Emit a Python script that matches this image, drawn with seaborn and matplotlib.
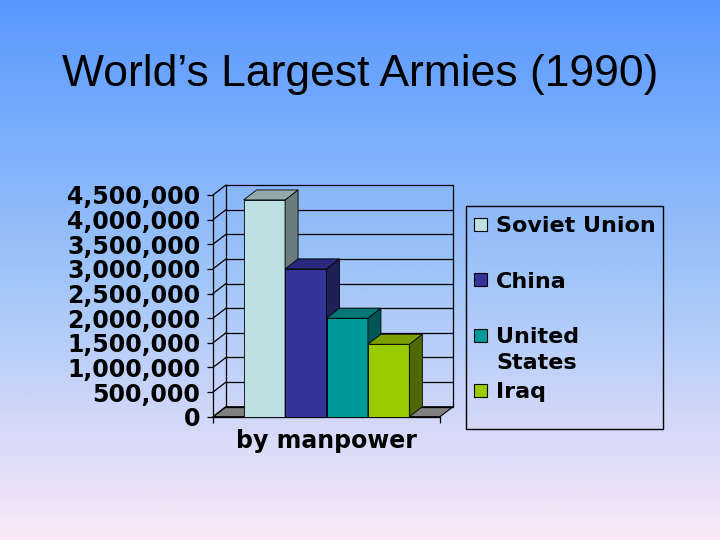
import numpy as np
import pandas as pd
import matplotlib
matplotlib.use('Agg')
import matplotlib.pyplot as plt
from matplotlib.patches import Polygon, Rectangle
from matplotlib.colors import LinearSegmentedColormap
import seaborn as sns

# data
countries = ['Soviet Union', 'China', 'United States', 'Iraq']
legend_labels = ['Soviet Union', 'China', 'United\nStates', 'Iraq']
troops = [4400000, 3000000, 2000000, 1470000]
category = 'by manpower'
y_ticks = list(range(0, 4500001, 500000))

front_colors = ['#BDE0E3', '#333399', '#009999', '#99CC00']
top_colors = ['#93A9AA', '#28287D', '#007878', '#7AA000']
side_colors = ['#6A7D7E', '#1F1F57', '#005656', '#4F6900']

sns.set_theme(style='white')
plt.rcParams['font.family'] = ['DejaVu Sans']
plt.rcParams['text.color'] = 'black'
plt.rcParams['xtick.color'] = 'black'
plt.rcParams['ytick.color'] = 'black'
plt.rcParams['axes.labelcolor'] = 'black'

df = pd.DataFrame({'cat': [category] * len(countries), 'country': countries, 'troops': troops})

W, H = 720, 540
fig = plt.figure(figsize=(W / 100, H / 100), dpi=100)

# gradient background (blue top -> pink bottom)
bg = fig.add_axes([0, 0, 1, 1], zorder=-10)
cmap = LinearSegmentedColormap.from_list('bg', ['#5798FF', '#9EC4F8', '#FBE8F8'])
grad = np.linspace(0, 1, 256).reshape(-1, 1)
bg.imshow(grad, aspect='auto', cmap=cmap, extent=[0, 1, 0, 1])
bg.set_xlim(0, 1)
bg.set_ylim(0, 1)
bg.axis('off')

# front plane of the 3d plot area
ax = fig.add_axes([213 / W, (H - 416.7) / H, 227 / W, 221.7 / H])
ax.patch.set_alpha(0)

sns.barplot(data=df, x='cat', y='troops', hue='country', hue_order=countries,
            palette=front_colors, width=0.73, saturation=1, legend=False, ax=ax,
            edgecolor='black', linewidth=0.6)

ax.set_xlim(-0.5, 0.5)
ax.set_ylim(0, 4500000)

# depth offset (data units)
dx = 13 / 227 * 1.0
dy = 10 / 221.7 * 4500000

# floor
floor = Polygon([(-0.5, 0), (0.5, 0), (0.5 + dx, dy), (-0.5 + dx, dy)],
                closed=True, facecolor='#808080', edgecolor='black', lw=0.8,
                zorder=1, clip_on=False)
ax.add_patch(floor)

# back wall + side wall grid lines
top = y_ticks[-1]
for t in y_ticks:
    ax.plot([-0.5 + dx, 0.5 + dx], [t + dy, t + dy], color='black', lw=0.9, zorder=1.5, clip_on=False)
    ax.plot([-0.5, -0.5 + dx], [t, t + dy], color='black', lw=0.9, zorder=1.5, clip_on=False)
ax.plot([-0.5 + dx, -0.5 + dx], [dy, top + dy], color='black', lw=0.9, zorder=1.5, clip_on=False)
ax.plot([0.5 + dx, 0.5 + dx], [dy, top + dy], color='black', lw=0.9, zorder=1.5, clip_on=False)

# 3d faces for each bar
for i, bar in enumerate(ax.patches[:len(countries)]):
    x0 = bar.get_x()
    w = bar.get_width()
    h = bar.get_height()
    bar.set_zorder(3 + i)
    side = Polygon([(x0 + w, 0), (x0 + w + dx, dy), (x0 + w + dx, h + dy), (x0 + w, h)],
                   closed=True, facecolor=side_colors[i], edgecolor='black', lw=0.6,
                   zorder=3 + i, clip_on=False)
    topf = Polygon([(x0, h), (x0 + dx, h + dy), (x0 + w + dx, h + dy), (x0 + w, h)],
                   closed=True, facecolor=top_colors[i], edgecolor='black', lw=0.6,
                   zorder=3 + i, clip_on=False)
    ax.add_patch(side)
    ax.add_patch(topf)
    bar.set_clip_on(False)

# axes styling
for s in ['top', 'right']:
    ax.spines[s].set_visible(False)
for s in ['left', 'bottom']:
    ax.spines[s].set_color('black')
    ax.spines[s].set_linewidth(0.9)
    ax.spines[s].set_zorder(2)

ax.set_yticks(y_ticks)
ax.set_yticklabels([f'{v:,}' for v in y_ticks], fontsize=17, fontweight='bold')
ax.tick_params(axis='y', left=True, length=4, width=0.9, color='black', pad=5, direction='out')

ax.set_xticks([0])
ax.set_xticklabels([category], fontsize=17, fontweight='bold')
ax.set_xticks([-0.5, 0.5], minor=True)
ax.tick_params(axis='x', which='major', length=0, pad=9)
ax.tick_params(axis='x', which='minor', bottom=True, length=4, width=0.9, color='black')
ax.set_xlabel('')
ax.set_ylabel('')

# legend box drawn by hand (Excel style)
fig.patches.append(Rectangle((466 / W, 1 - 429 / H), 197 / W, 223 / H, transform=fig.transFigure,
                             fill=False, edgecolor='black', lw=1))
step = 55.5
for i, lab in enumerate(legend_labels):
    cy = 224 + i * step
    fig.patches.append(Rectangle((473.5 / W, 1 - (cy + 6.5) / H), 13 / W, 13 / H,
                                 transform=fig.transFigure, facecolor=front_colors[i],
                                 edgecolor='black', lw=0.8))
    for j, line in enumerate(lab.split('\n')):
        fig.text(496 / W, 1 - (232 + i * step + j * 26) / H, line, fontsize=16,
                 fontweight='bold', va='baseline', ha='left')

fig.text(0.5, 1 - 86 / H, 'World\u2019s Largest Armies (1990)', fontsize=32,
         family=['Liberation Sans', 'DejaVu Sans'], ha='center', va='baseline', color='black')

fig.savefig('out.png', dpi=100)
